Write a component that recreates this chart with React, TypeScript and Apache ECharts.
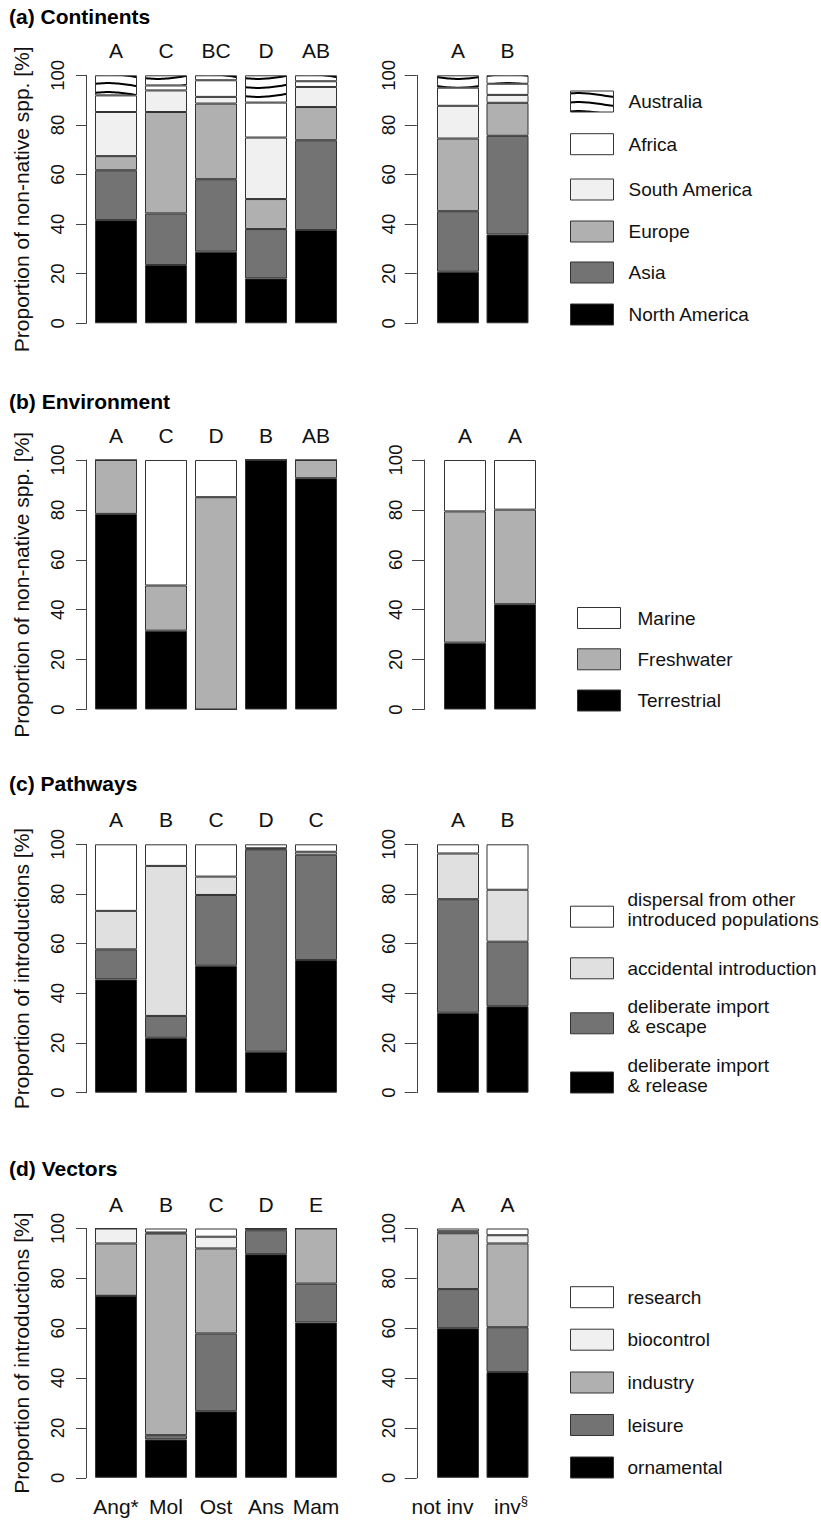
import React, { useEffect, useRef } from "react";
import * as echarts from "echarts";

const FONT = '"Liberation Sans", Arial, Helvetica, sans-serif';

// ---------- categories ----------
const taxaCats = ["Ang*", "Mol", "Ost", "Ans", "Mam"];
const statusCats = ["not inv", "inv§"];

// ---------- (a) Continents ----------
const contLettersL = ["A", "C", "BC", "D", "AB"];
const contLettersR = ["A", "B"];
const contNorthAmericaL = [41.6, 23.5, 28.9, 18.1, 37.6];
const contAsiaL = [20.1, 20.8, 29.2, 19.9, 36.2];
const contEuropeL = [5.7, 40.9, 30.5, 12.1, 13.4];
const contSouthAmericaL = [17.8, 8.7, 2.7, 24.8, 8.1];
const contAfricaL = [6.7, 2.0, 6.7, 14.1, 2.3];
const contAustraliaL = [8.1, 4.1, 2.0, 11.0, 2.4];
const contNorthAmericaR = [20.8, 35.8];
const contAsiaR = [24.4, 39.8];
const contEuropeR = [29.3, 13.3];
const contSouthAmericaR = [13.2, 3.2];
const contAfricaR = [7.3, 4.5];
const contAustraliaR = [5.0, 3.4];

// ---------- (b) Environment ----------
const envLettersL = ["A", "C", "D", "B", "AB"];
const envLettersR = ["A", "A"];
const envTerrestrialL = [78.4, 31.6, 0, 100, 92.7];
const envFreshwaterL = [21.6, 18.1, 85.1, 0, 7.3];
const envMarineL = [0, 50.3, 14.9, 0, 0];
const envTerrestrialR = [26.8, 42.2];
const envFreshwaterR = [52.6, 37.9];
const envMarineR = [20.6, 19.9];

// ---------- (c) Pathways ----------
const pathLettersL = ["A", "B", "C", "D", "C"];
const pathLettersR = ["A", "B"];
const pathReleaseL = [45.6, 22.1, 51.1, 16.5, 53.4];
const pathEscapeL = [12.1, 8.8, 28.5, 81.5, 42.4];
const pathAccidentalL = [15.5, 60.4, 7.4, 0.4, 1.2];
const pathDispersalL = [26.8, 8.7, 13.0, 1.6, 3.0];
const pathReleaseR = [32.2, 34.8];
const pathEscapeR = [45.7, 26.0];
const pathAccidentalR = [18.4, 20.9];
const pathDispersalR = [3.7, 18.3];

// ---------- (d) Vectors ----------
const vecLettersL = ["A", "B", "C", "D", "E"];
const vecLettersR = ["A", "A"];
const vecOrnamentalL = [73.0, 15.4, 26.7, 89.7, 62.3];
const vecLeisureL = [0, 1.7, 31.2, 9.6, 15.6];
const vecIndustryL = [21.0, 80.9, 34.1, 0.7, 22.1];
const vecBiocontrolL = [6.0, 0.4, 4.7, 0, 0];
const vecResearchL = [0, 1.6, 3.3, 0, 0];
const vecOrnamentalR = [60.0, 42.4];
const vecLeisureR = [15.7, 18.0];
const vecIndustryR = [22.4, 33.6];
const vecBiocontrolR = [0.8, 3.3];
const vecResearchR = [1.1, 2.7];

// ---------- styles ----------
const BLACK = "#000000";
const DARK = "#737373";
const MID = "#b0b0b0";
const LIGHT = "#f0f0f0";
const PALE = "#e0e0e0";
const WHITE = "#ffffff";

function wavePattern(): any {
  const W = 100;
  const H = 9;
  const pts: string[] = [];
  for (let x = -2; x <= W + 2; x += 2) {
    const y = H / 2 + 2.4 * Math.sin((2 * Math.PI * (x - 33)) / W);
    pts.push(x + "," + y.toFixed(2));
  }
  const svg =
    '<svg xmlns="http://www.w3.org/2000/svg" width="' + W + '" height="' + H + '">' +
    '<rect width="' + W + '" height="' + H + '" fill="#ffffff"/>' +
    '<polyline points="' + pts.join(" ") + '" fill="none" stroke="#000" stroke-width="2"/></svg>';
  return {
    image: "data:image/svg+xml;charset=utf-8," + encodeURIComponent(svg),
    repeat: "repeat",
    imageWidth: W,
    imageHeight: H,
  };
}

type Seg = { name: string; color: any; left: number[]; right: number[]; legendY: number };
type Panel = {
  title: string;
  titleTop: number;
  yName: string;
  lettersL: string[];
  lettersR: string[];
  top: number;
  height: number;
  rightLeft: number;
  rightWidth: number;
  rightOffset: number;
  legendLeft: number;
  legendGap: number;
  showX: boolean;
  segs: Seg[];
};

function buildPanels(): Panel[] {
  const AUS = wavePattern();
  return [
    {
      title: "(a) Continents",
      titleTop: 6,
      yName: "Proportion of non-native spp. [%]",
      lettersL: contLettersL,
      lettersR: contLettersR,
      top: 75.3,
      height: 248,
      rightLeft: 433.25,
      rightWidth: 99,
      rightOffset: 16.5,
      legendLeft: 570,
      legendGap: 10,
      showX: false,
      segs: [
        { name: "North America", color: BLACK, left: contNorthAmericaL, right: contNorthAmericaR, legendY: 314 },
        { name: "Asia", color: DARK, left: contAsiaL, right: contAsiaR, legendY: 272 },
        { name: "Europe", color: MID, left: contEuropeL, right: contEuropeR, legendY: 231 },
        { name: "South America", color: LIGHT, left: contSouthAmericaL, right: contSouthAmericaR, legendY: 189 },
        { name: "Africa", color: WHITE, left: contAfricaL, right: contAfricaR, legendY: 143.7 },
        { name: "Australia", color: AUS, left: contAustraliaL, right: contAustraliaR, legendY: 101 },
      ],
    },
    {
      title: "(b) Environment",
      titleTop: 391,
      yName: "Proportion of non-native spp. [%]",
      lettersL: envLettersL,
      lettersR: envLettersR,
      top: 460,
      height: 249.5,
      rightLeft: 440,
      rightWidth: 100,
      rightOffset: 16,
      legendLeft: 577,
      legendGap: 12,
      showX: false,
      segs: [
        { name: "Terrestrial", color: BLACK, left: envTerrestrialL, right: envTerrestrialR, legendY: 700 },
        { name: "Freshwater", color: MID, left: envFreshwaterL, right: envFreshwaterR, legendY: 658.8 },
        { name: "Marine", color: WHITE, left: envMarineL, right: envMarineR, legendY: 617.5 },
      ],
    },
    {
      title: "(c) Pathways",
      titleTop: 773,
      yName: "Proportion of introductions [%]",
      lettersL: pathLettersL,
      lettersR: pathLettersR,
      top: 844.3,
      height: 248.4,
      rightLeft: 433.25,
      rightWidth: 99,
      rightOffset: 16.5,
      legendLeft: 570,
      legendGap: 9,
      showX: false,
      segs: [
        { name: "deliberate import\n& release", color: BLACK, left: pathReleaseL, right: pathReleaseR, legendY: 1082.5 },
        { name: "deliberate import\n& escape", color: DARK, left: pathEscapeL, right: pathEscapeR, legendY: 1023.3 },
        { name: "accidental introduction", color: PALE, left: pathAccidentalL, right: pathAccidentalR, legendY: 967.8 },
        { name: "dispersal from other\nintroduced populations", color: WHITE, left: pathDispersalL, right: pathDispersalR, legendY: 916.7 },
      ],
    },
    {
      title: "(d) Vectors",
      titleTop: 1158,
      yName: "Proportion of introductions [%]",
      lettersL: vecLettersL,
      lettersR: vecLettersR,
      top: 1228.5,
      height: 249.3,
      rightLeft: 433.25,
      rightWidth: 99,
      rightOffset: 16.5,
      legendLeft: 570,
      legendGap: 9,
      showX: true,
      segs: [
        { name: "ornamental", color: BLACK, left: vecOrnamentalL, right: vecOrnamentalR, legendY: 1467 },
        { name: "leisure", color: DARK, left: vecLeisureL, right: vecLeisureR, legendY: 1424.5 },
        { name: "industry", color: MID, left: vecIndustryL, right: vecIndustryR, legendY: 1382 },
        { name: "biocontrol", color: LIGHT, left: vecBiocontrolL, right: vecBiocontrolR, legendY: 1339.2 },
        { name: "research", color: WHITE, left: vecResearchL, right: vecResearchR, legendY: 1296.7 },
      ],
    },
  ];
}

function buildOption(): any {
  const panels = buildPanels();
  const grid: any[] = [];
  const xAxis: any[] = [];
  const yAxis: any[] = [];
  const series: any[] = [];
  const legend: any[] = [];
  const title: any[] = [];
  const TXT = "#111111";
  const AX = "#444444";

  panels.forEach((p, pi) => {
    title.push({
      text: p.title,
      left: 9,
      top: p.titleTop,
      padding: 0,
      textStyle: { fontFamily: FONT, fontSize: 21, fontWeight: "bold", color: "#000" },
    });
    const gL = 2 * pi;
    const gR = 2 * pi + 1;
    grid.push({ left: 91, width: 250, top: p.top, height: p.height });
    grid.push({ left: p.rightLeft, width: p.rightWidth, top: p.top, height: p.height });

    [gL, gR].forEach((g) => {
      const isLeft = g === gL;
      const cats = isLeft ? taxaCats : statusCats;
      xAxis.push({
        type: "category",
        gridIndex: g,
        position: "bottom",
        data: cats,
        axisLine: { show: false },
        axisTick: { show: false },
        axisLabel: {
          show: p.showX,
          interval: 0,
          margin: 17,
          fontFamily: FONT,
          fontSize: 21,
          color: TXT,
          formatter: (v: string) => {
            if (v.endsWith("§")) return "{n|" + v.slice(0, -1) + "}{s|§}";
            return "{" + (isLeft ? "c" : "l") + "|" + v + "}";
          },
          rich: {
            c: { fontFamily: FONT, fontSize: 21, color: TXT, height: 24, lineHeight: 24 },
            n: { fontFamily: FONT, fontSize: 21, color: TXT, height: 24, lineHeight: 24, padding: [0, 0, 0, 7] },
            s: { fontFamily: FONT, fontSize: 13, color: TXT, height: 12, lineHeight: 12, padding: [0, 0, 12, 0] },
            l: { fontFamily: FONT, fontSize: 21, color: TXT, height: 24, lineHeight: 24, padding: [0, 31, 0, 0] },
          },
        },
      });
      xAxis.push({
        type: "category",
        gridIndex: g,
        position: "top",
        data: isLeft ? p.lettersL : p.lettersR,
        axisLine: { show: false },
        axisTick: { show: false },
        axisLabel: { interval: 0, margin: 14, fontFamily: FONT, fontSize: 21, color: TXT },
      });
      yAxis.push({
        type: "value",
        gridIndex: g,
        min: 0,
        max: 100,
        interval: 20,
        offset: isLeft ? 5 : p.rightOffset,
        name: isLeft ? p.yName : "",
        nameLocation: "middle",
        nameRotate: 90,
        nameGap: 54,
        nameTextStyle: { fontFamily: FONT, fontSize: 21, color: TXT },
        splitLine: { show: false },
        axisLine: { show: true, lineStyle: { color: AX, width: 1 } },
        axisTick: { show: true, length: isLeft ? 10 : 12, lineStyle: { color: AX, width: 1 } },
        axisLabel: { rotate: 90, margin: 19, fontFamily: FONT, fontSize: 18.5, color: TXT },
      });
    });

    p.segs.forEach((s) => {
      const common = {
        type: "bar",
        name: s.name,
        barWidth: 42,
        itemStyle: { color: s.color, borderColor: "#333333", borderWidth: 1 },
        emphasis: { disabled: true },
      };
      series.push({ ...common, stack: "L" + pi, xAxisIndex: 2 * gL, yAxisIndex: gL, data: s.left });
      series.push({ ...common, stack: "R" + pi, xAxisIndex: 2 * gR, yAxisIndex: gR, data: s.right });

      const lines = s.name.split("\n");
      const multi = lines.length > 1;
      const textH = multi ? lines.length * 20 + 14 : 20;
      legend.push({
        data: [s.name],
        left: p.legendLeft,
        top: s.legendY - Math.max(10.5, textH / 2),
        orient: "vertical",
        padding: 0,
        icon: "rect",
        itemWidth: 43,
        itemHeight: 21,
        selectedMode: false,
        itemStyle: { borderColor: "#333333", borderWidth: 1 },
        formatter: (name: string) => {
          const ls = name.split("\n");
          const body = ls.map((t) => "{t|" + t + "}").join("\n");
          return ls.length > 1 ? body + "\n{e| }" : body;
        },
        textStyle: {
          fontFamily: FONT,
          fontSize: 19,
          color: TXT,
          lineHeight: 20,
          rich: {
            t: { fontFamily: FONT, fontSize: 19, color: TXT, height: 20, lineHeight: 20, padding: [0, 0, 0, p.legendGap] },
            e: { fontFamily: FONT, fontSize: 6, color: TXT, height: 14, lineHeight: 14 },
          },
        },
      });
    });
  });

  return {
    animation: false,
    backgroundColor: "#ffffff",
    textStyle: { fontFamily: FONT },
    title,
    grid,
    xAxis,
    yAxis,
    legend,
    series,
  };
}

export default function App() {
  const ref = useRef<HTMLDivElement>(null);
  useEffect(() => {
    if (!ref.current) return;
    const chart = echarts.init(ref.current, undefined, { renderer: "svg" });
    chart.setOption(buildOption());
    return () => chart.dispose();
  }, []);
  return (
    <div
      ref={ref}
      style={{ position: "absolute", left: 0, top: 0, width: 821, height: 1521, background: "#fff" }}
    />
  );
}
